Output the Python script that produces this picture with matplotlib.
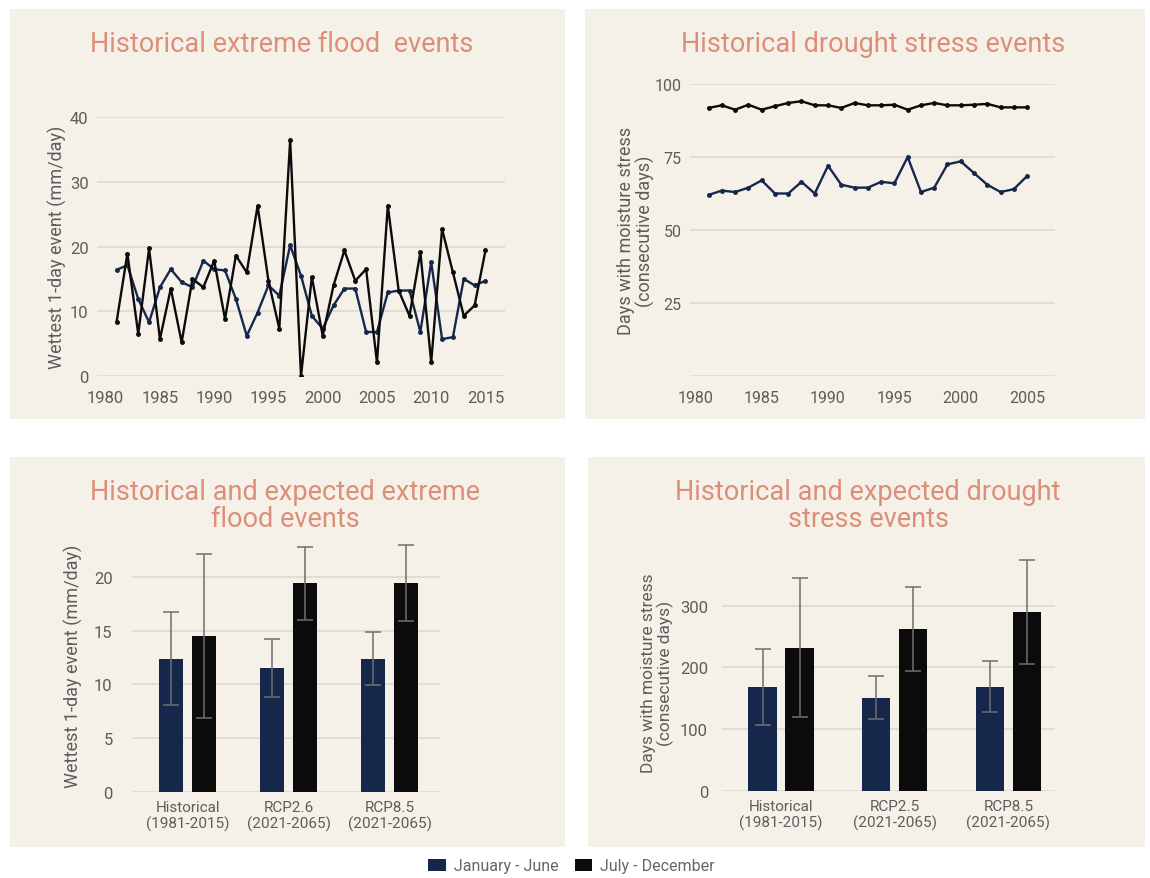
import matplotlib
matplotlib.use("Agg")
import matplotlib.pyplot as plt
from matplotlib.patches import Rectangle, Patch

# Data
#===========================================================================
years_flood = list(range(1981, 2016))
flood_jan_jun = [16.4, 17.1, 11.9, 8.3, 13.7, 16.5, 14.5, 13.7, 17.8, 16.5,
                 16.3, 11.9, 6.2, 9.8, 14.0, 12.4, 20.2, 15.5, 9.3, 7.3,
                 10.9, 13.5, 13.5, 6.8, 6.8, 12.9, 13.2, 13.2, 6.8, 17.6,
                 5.7, 6.0, 15.0, 14.0, 14.7]
flood_jul_dec = [8.3, 18.9, 6.5, 19.7, 5.7, 13.5, 5.2, 15.0, 13.7, 17.8,
                 8.8, 18.6, 16.0, 26.3, 14.7, 7.3, 36.4, 0.0, 15.3, 6.2,
                 14.0, 19.4, 14.7, 16.5, 2.1, 26.3, 13.2, 9.3, 19.1, 2.1,
                 22.7, 16.0, 9.3, 10.9, 19.4]

years_drought = list(range(1981, 2006))
drought_jan_jun = [62.0, 63.5, 63.0, 64.5, 67.0, 62.5, 62.5, 66.5, 62.5, 72.0,
                   65.5, 64.5, 64.5, 66.5, 66.0, 75.0, 63.0, 64.5, 72.5, 73.5,
                   69.5, 65.5, 63.0, 64.0, 68.5]
drought_jul_dec = [91.8, 92.7, 91.2, 92.9, 91.2, 92.4, 93.5, 94.1, 92.7, 92.7,
                   91.8, 93.5, 92.7, 92.7, 92.9, 91.2, 92.7, 93.5, 92.7, 92.7,
                   92.9, 93.2, 92.0, 92.0, 92.0]

flood_periods = ["Historical\n(1981-2015)", "RCP2.6\n(2021-2065)", "RCP8.5\n(2021-2065)"]
flood_mean_jan_jun = [12.4, 11.5, 12.4]
flood_mean_jul_dec = [14.5, 19.4, 19.4]
flood_err_jan_jun = [4.3, 2.7, 2.5]
flood_err_jul_dec = [7.6, 3.4, 3.5]

drought_periods = ["Historical\n(1981-2015)", "RCP2.5\n(2021-2065)", "RCP8.5\n(2021-2065)"]
drought_mean_jan_jun = [168, 151, 169]
drought_mean_jul_dec = [232, 262, 289]
drought_err_jan_jun = [61, 35, 42]
drought_err_jul_dec = [113, 68, 84]

season_labels = ["January - June", "July - December"]

# Style
#===========================================================================
NAVY = "#15284c"
BLACK = "#0b0b0b"
PANEL = "#f5f1e8"
GRID = "#dedad2"
TITLE = "#dc8e78"
TEXT = "#5c5c5c"

plt.rcParams["font.family"] = ["Roboto", "DejaVu Sans"]

W, H = 1150, 879
fig = plt.figure(figsize=(W / 100, H / 100), dpi=100)
fig.patch.set_facecolor("white")


def box(x0, y0, x1, y1):
    return [x0 / W, 1 - y1 / H, (x1 - x0) / W, (y1 - y0) / H]


def panel(x0, y0, x1, y1):
    fig.patches.append(Rectangle((x0 / W, 1 - y1 / H), (x1 - x0) / W, (y1 - y0) / H,
                                 transform=fig.transFigure, facecolor=PANEL,
                                 edgecolor="none", zorder=-10))


def title(x, y, s):
    fig.text(x / W, 1 - y / H, s, ha="center", va="center", fontsize=19.5,
             color=TITLE, linespacing=1.0)


def style_axes(ax, size=12):
    ax.set_facecolor("none")
    ax.set_zorder(2)
    for side in ax.spines.values():
        side.set_visible(False)
    ax.yaxis.grid(True, color=GRID, lw=1.2)
    ax.set_axisbelow(True)
    ax.tick_params(length=0, labelsize=size, colors=TEXT, pad=6)


panel(10, 10, 565, 420)
panel(585, 10, 1145, 420)
panel(10, 458, 565, 848)
panel(588, 458, 1145, 848)

title(282, 45, "Historical extreme flood  events")
title(873, 45, "Historical drought stress events")
title(285, 506, "Historical and expected extreme\nflood events")
title(868, 506, "Historical and expected drought\nstress events")

# LINE CHARTS
#===========================================================================
ax1 = fig.add_axes(box(97, 118, 505, 377))
style_axes(ax1)
ax1.plot(years_flood, flood_jan_jun, color=NAVY, lw=1.7, marker="o", ms=2.5)
ax1.plot(years_flood, flood_jul_dec, color=BLACK, lw=1.7, marker="o", ms=2.5)
ax1.set_xlim(1979.2, 2016.8)
ax1.set_ylim(0, 40)
ax1.set_yticks([0, 10, 20, 30, 40])
ax1.set_xticks(range(1980, 2020, 5))
ax1.tick_params(axis="x", pad=10)
ax1.set_ylabel("Wettest 1-day event (mm/day)", fontsize=13, color=TEXT, labelpad=2)

ax2 = fig.add_axes(box(690, 85, 1055, 377))
style_axes(ax2, 11.5)
ax2.plot(years_drought, drought_jan_jun, color=NAVY, lw=1.7, marker="o", ms=2.5)
ax2.plot(years_drought, drought_jul_dec, color=BLACK, lw=1.7, marker="o", ms=2.5)
ax2.set_xlim(1979.6, 2007.1)
ax2.set_ylim(0, 100)
ax2.set_yticks([0, 25, 50, 75, 100])
ax2.set_yticklabels(["", "25", "50", "75", "100"])
ax2.set_xticks(range(1980, 2010, 5))
ax2.tick_params(axis="x", pad=10)
ax2.set_ylabel("Days with moisture stress\n(consecutive days)", fontsize=13,
               color=TEXT, labelpad=0, linespacing=1.05)

# BAR CHARTS
#===========================================================================
def bars(ax, labels, m1, m2, e1, e2, width, off):
    x = list(range(len(labels)))
    ek = dict(ecolor="#6e6e6e", elinewidth=1.1, capsize=5.5, capthick=1.1)
    ax.bar([i - off for i in x], m1, width, color=NAVY, yerr=e1, error_kw=ek,
           label=season_labels[0])
    ax.bar([i + off for i in x], m2, width, color=BLACK, yerr=e2, error_kw=ek,
           label=season_labels[1])
    ax.set_xticks(x)
    ax.set_xticklabels(labels, fontsize=11, linespacing=1.1)
    ax.tick_params(axis="x", pad=6)


ax3 = fig.add_axes(box(132, 540, 440, 793))
style_axes(ax3)
bars(ax3, flood_periods, flood_mean_jan_jun, flood_mean_jul_dec,
     flood_err_jan_jun, flood_err_jul_dec, 0.24, 0.165)
ax3.set_xlim(-0.55, 2.5)
ax3.set_ylim(0, 23.5)
ax3.set_yticks([0, 5, 10, 15, 20])
ax3.tick_params(axis="y", pad=14)
ax3.set_ylabel("Wettest 1-day event (mm/day)", fontsize=13, color=TEXT, labelpad=8)

ax4 = fig.add_axes(box(722, 554, 1055, 792))
style_axes(ax4)
bars(ax4, drought_periods, drought_mean_jan_jun, drought_mean_jul_dec,
     drought_err_jan_jun, drought_err_jul_dec, 0.25, 0.163)
ax4.set_xlim(-0.52, 2.41)
ax4.set_ylim(0, 385)
ax4.set_yticks([0, 100, 200, 300])
ax4.tick_params(axis="y", pad=10)
ax4.set_ylabel("Days with moisture stress\n(consecutive days)", fontsize=12.5,
               color=TEXT, labelpad=4, linespacing=1.05)

# LEGEND
#===========================================================================
handles = [Patch(facecolor=NAVY, label=season_labels[0]),
           Patch(facecolor=BLACK, label=season_labels[1])]
fig.legend(handles=handles, loc="center", bbox_to_anchor=(0.497, 1 - 867 / H),
           ncol=2, frameon=False, fontsize=11.5, handlelength=1.1, handleheight=0.7,
           columnspacing=1.0, handletextpad=0.5, labelcolor="#666666")

fig.savefig("out.png", dpi=100, facecolor="white")
